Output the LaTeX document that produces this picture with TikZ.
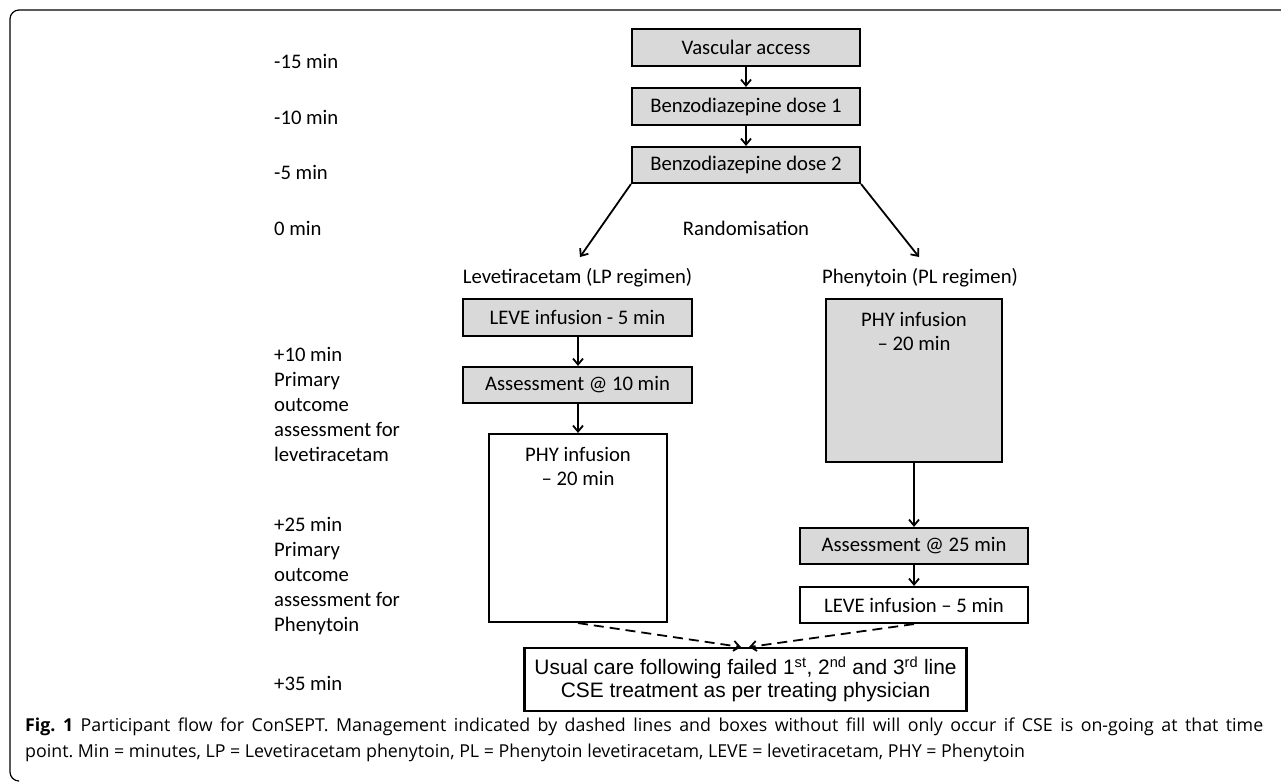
\documentclass[tikz,border=0pt]{standalone}
\usepackage{fontspec}
\setmainfont{Carlito}
\newfontfamily\arialfont{Liberation Sans}
\newfontfamily\capfont{Open Sans}
\usetikzlibrary{arrows.meta}
\definecolor{boxgrey}{HTML}{D9D9D9}

\begin{document}
\begin{tikzpicture}[x=1pt,y=-1pt]
        \useasboundingbox (0,0) rectangle (1281,782);
        \draw[line width=1.2pt, rounded corners=9pt] (1281,10) -- (10,10) -- (10,781) -- (18,781);
                \begin{scope}[every node/.style={anchor=west, inner sep=0, align=left, font=\fontsize{20.7}{25}\selectfont}]
                        \node (T15) at (274,61) {-15 min};
                        \node (T10) at (274,117) {-10 min};
                        \node (T5) at (274,172) {-5 min};
                        \node (T0) at (274,228) {0 min};
                        \node[anchor=north west] (P10) at (274,347) {+10 min\\Primary\\outcome\\assessment for\\levetiracetam};
                        \node[anchor=north west] (P25) at (274,517) {+25 min\\Primary\\outcome\\assessment for\\Phenytoin};
                        \node (P35) at (274,683) {+35 min};
                \end{scope}
                \begin{scope}[every node/.style={inner sep=0, font=\fontsize{20.7}{24}\selectfont}]
                        \node (Rand) at (746,228) {Randomisation};
                        \node (LPReg) at (577.5,278) {Levetiracetam (LP regimen)};
                        \node (PLReg) at (920,278) {Phenytoin (PL regimen)};
                \end{scope}
                \begin{scope}[every node/.style={draw, line width=2.1pt, inner sep=0, font=\fontsize{20.7}{24}\selectfont}, grey/.style={fill=boxgrey}]
                        \node[grey, minimum width=228, minimum height=37] (Vasc) at (746,47.5) {Vascular access};
                        \node[grey, minimum width=228, minimum height=37] (Benz1) at (746,106.5) {Benzodiazepine dose 1};
                        \node[grey, minimum width=228, minimum height=36] (Benz2) at (746,165) {Benzodiazepine dose 2};
                        \node[grey, minimum width=229, minimum height=37] (LeveInfL) at (577.5,317.5) {LEVE infusion - 5 min};
                        \node[grey, minimum width=229, minimum height=36] (Assess10) at (577.5,385) {Assessment @ 10 min};
                        \node[minimum width=178, minimum height=188] (PhyInfL) at (578,528) {};
                        \node[grey, minimum width=176, minimum height=163] (PhyInfR) at (914,380.5) {};
                        \node[grey, minimum width=228, minimum height=36] (Assess25) at (914,546) {Assessment @ 25 min};
                        \node[minimum width=228, minimum height=36] (LeveInfR) at (914,605) {LEVE infusion -- 5 min};
                        \node[minimum width=442, minimum height=63, align=center, font=\arialfont\fontsize{20.9}{23}\selectfont] (Usual) at (745.5,679.5)
                                {Usual care following failed 1\textsuperscript{st}, 2\textsuperscript{nd} and 3\textsuperscript{rd} line\\CSE treatment as per treating physician};
                \end{scope}
                \begin{scope}[every node/.style={inner sep=0, align=center, anchor=north, font=\fontsize{20.7}{24}\selectfont}]
                        \node (PhyTxtL) at (578,447) {PHY infusion\\-- 20 min};
                        \node (PhyTxtR) at (914,312) {PHY infusion\\-- 20 min};
                \end{scope}
                \coordinate (LX) at (578,0);
                \coordinate (LTip) at (580,257);
                \coordinate (RTip) at (919,257);
                \coordinate (MeetL) at (741,647);
                \coordinate (MeetR) at (749,647);
                \begin{scope}[every path/.style={line width=1.8pt, ->, >={Straight Barb[length=6pt,width=10pt]}}]
                        \path (Vasc) edge (Benz1);
                        \path (Benz1) edge (Benz2);
                        \path (Benz2.south west) edge (LTip);
                        \path (Benz2.south east) edge (RTip);
                        \path (LeveInfL.south -| LX) edge (Assess10.north -| LX);
                        \path (Assess10.south -| LX) edge (PhyInfL.north -| LX);
                        \path (PhyInfR) edge (Assess25);
                        \path (Assess25) edge (LeveInfR);
                        \path[line width=2.2pt, dash pattern=on 10pt off 6pt] (PhyInfL.south -| LX) edge (MeetL);
                        \path[line width=2.2pt, dash pattern=on 10pt off 6pt] (LeveInfR.south) edge (MeetR);
                \end{scope}
                \node[anchor=north west, inner sep=0, text width=1238pt, align=justify, font=\capfont\fontsize{17.8}{26}\selectfont\frenchspacing] (Caption) at (25,718)
                        {\textbf{Fig.\ 1} Participant flow for ConSEPT. Management indicated by dashed lines and boxes without fill will only occur if CSE is on-going at that time\linebreak point. Min = minutes, LP = Levetiracetam phenytoin, PL = Phenytoin levetiracetam, LEVE = levetiracetam, PHY = Phenytoin};
        \end{tikzpicture}
\end{document}
